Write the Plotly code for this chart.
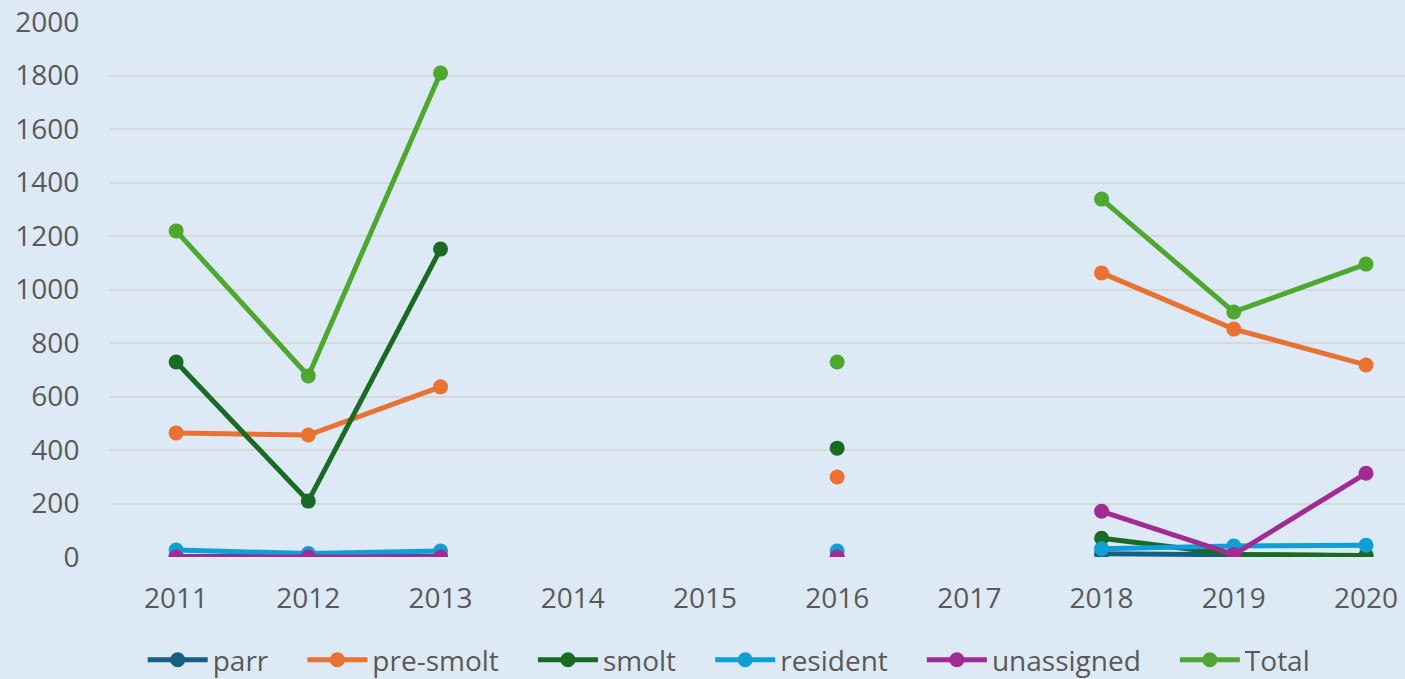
import plotly.graph_objects as go

years = [2011, 2012, 2013, 2014, 2015, 2016, 2017, 2018, 2019, 2020]
parr = [2, 2, 2, None, None, 0, None, 12, 8, 5]
pre_smolt = [464, 456, 636, None, None, 299, None, 1062, 852, 718]
smolt = [729, 209, 1151, None, None, 407, None, 70, 9, 6]
resident = [26, 13, 22, None, None, 22, None, 31, 41, 44]
unassigned = [0, 0, 0, None, None, 0, None, 171, 9, 313]
total = [1219, 677, 1809, None, None, 729, None, 1338, 916, 1095]

series = [
    ("parr", parr, "#156082"),
    ("pre-smolt", pre_smolt, "#E97132"),
    ("smolt", smolt, "#196B24"),
    ("resident", resident, "#0F9ED5"),
    ("unassigned", unassigned, "#A02B93"),
    ("Total", total, "#4EA72E"),
]

pad = "\u00a0" * 4
fig = go.Figure()
for i, (name, vals, col) in enumerate(series):
    label = name + (pad if i < len(series) - 1 else "")
    fig.add_trace(go.Scatter(
        x=years, y=vals, name=label, mode="lines+markers",
        line=dict(color=col, width=5),
        marker=dict(color=col, size=15),
        connectgaps=False,
    ))

font_fam = "Open Sans, sans-serif"
fig.update_layout(
    width=1405, height=679,
    paper_bgcolor="#DDEAF6", plot_bgcolor="#DDEAF6",
    margin=dict(l=110, r=0, t=22, b=122),
    font=dict(family=font_fam, size=28, color="#595959"),
    showlegend=True,
    legend=dict(orientation="h", xref="container", yref="container",
                x=0.519, xanchor="center", y=(679 - 660) / 679, yanchor="middle",
                font=dict(size=28, color="#595959"), itemwidth=60,
                traceorder="normal", bgcolor="rgba(0,0,0,0)"),
    xaxis=dict(range=[2010.5, 2020.295], tickmode="array", tickvals=years,
               ticktext=[str(y) for y in years], showgrid=False, zeroline=False,
               ticks="outside", ticklen=16, tickcolor="rgba(0,0,0,0)",
               showline=False, fixedrange=True),
    yaxis=dict(range=[0, 2000], tickmode="array",
               tickvals=list(range(0, 2001, 200)),
               showgrid=True, gridcolor="#D6D9DC", gridwidth=2,
               zeroline=False, ticks="outside", ticklen=24,
               tickcolor="rgba(0,0,0,0)", showline=False),
)

fig.write_html("out.html", config={"displayModeBar": False},
               post_script="document.body.style.margin='0';document.body.style.background='#DDEAF6';")
